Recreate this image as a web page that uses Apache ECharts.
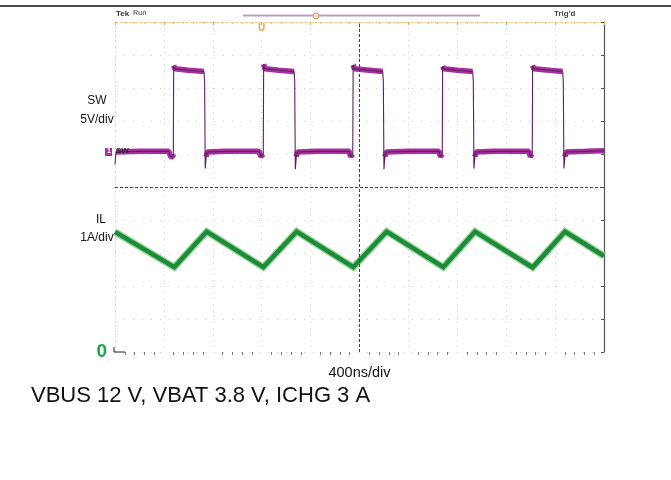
<!DOCTYPE html>
<html><head><meta charset="utf-8">
<script src="https://cdn.jsdelivr.net/npm/echarts@6/dist/echarts.min.js"></script>
<style>html,body{margin:0;padding:0;background:#fff}#c{width:671px;height:480px}</style>
</head><body><div id="c"></div>
<script>
// Time axis (ns), 400 ns/div, 10 divisions
const timeTicksNs = [0, 400, 800, 1200, 1600, 2000, 2400, 2800, 3200, 3600, 4000];
// SW node voltage (V), 5 V/div
const swT = [0, 8, 200, 440, 455, 472, 477, 480, 490, 600, 728, 733, 738, 746, 756,
  900, 1180, 1192, 1208, 1213, 1216, 1226, 1340, 1465, 1470, 1475, 1483, 1492,
  1650, 1915, 1928, 1940, 1945, 1948, 1958, 2080, 2190, 2195, 2200, 2208, 2218,
  2400, 2650, 2662, 2672, 2677, 2680, 2690, 2800, 2926, 2931, 2936, 2944, 2954,
  3100, 3385, 3398, 3408, 3413, 3416, 3426, 3550, 3662, 3667, 3672, 3680, 3690,
  3850, 4000];
const swV = [-1.6, 0.3, 0.4, 0.4, -0.4, -0.4, 0.0, 13.4, 12.9, 12.7, 12.5, 11.0, -2.2, -0.4, 0.3,
  0.4, 0.4, -0.4, -0.4, 0.0, 13.6, 12.9, 12.7, 12.5, 11.0, -2.3, -0.4, 0.3,
  0.4, 0.4, -0.4, -0.4, 0.0, 13.5, 12.9, 12.7, 12.5, 11.0, -2.3, -0.4, 0.3,
  0.4, 0.4, -0.4, -0.4, 0.0, 13.3, 12.9, 12.7, 12.5, 11.0, -2.2, -0.4, 0.3,
  0.4, 0.4, -0.4, -0.4, 0.0, 13.4, 12.9, 12.7, 12.5, 11.0, -2.2, -0.4, 0.3,
  0.4, 0.5];
// Inductor current (A), 1 A/div
const ilT = [0, 485, 750, 1213, 1486, 1949, 2222, 2685, 2945, 3416, 3681, 4000];
const ilA = [3.64, 2.57, 3.65, 2.57, 3.65, 2.57, 3.65, 2.57, 3.65, 2.56, 3.65, 2.91];
// Labels
const swLabel = ['SW', '5V/div'];
const ilLabel = ['IL', '1A/div'];
const xLabel = '400ns/div';
const caption = 'VBUS 12 V, VBAT 3.8 V, ICHG 3 A';

const swData = swT.map((t, i) => [t, swV[i]]);
const swPlateauData = [];
for (let i = 0; i < swT.length - 1; i++) {
  if (Math.abs(swV[i + 1] - swV[i]) < 0.9) { swPlateauData.push([swT[i], swV[i]], [swT[i + 1], swV[i + 1]]); }
  else swPlateauData.push([null, null]);
}
const ilData = ilT.map((t, i) => [t, ilA[i]]);

const chart = echarts.init(document.getElementById('c'), null, {renderer: 'canvas'});
const F = 'Liberation Sans, Arial, sans-serif';
chart.setOption({
  animation: false,
  backgroundColor: '#fff',
  grid: {left: 115, right: 67, top: 22, bottom: 128, containLabel: false},
  xAxis: [{
    type: 'value', min: timeTicksNs[0], max: timeTicksNs[timeTicksNs.length - 1], interval: 400,
    position: 'bottom',
    name: xLabel, nameLocation: 'middle', nameGap: 13,
    nameTextStyle: {fontFamily: F, fontSize: 14.5, color: '#111'},
    axisLine: {show: false, onZero: false},
    axisTick: {show: false},
    minorTick: {show: true, splitNumber: 5, length: 3, lineStyle: {color: '#777', width: 1}},
    axisLabel: {show: false},
    splitLine: {show: true, lineStyle: {color: '#cfcfcf', type: [1, 5], width: 1}}
  }, {
    type: 'value', min: 0, max: 4000, interval: 400, position: 'top',
    axisLine: {show: true, onZero: false, lineStyle: {color: '#f0c890', width: 1, type: [3, 2]}},
    axisTick: {show: true, inside: true, length: 3, lineStyle: {color: '#d8a868'}},
    minorTick: {show: true, splitNumber: 5, length: 2, lineStyle: {color: '#e8c090'}},
    axisLabel: {show: false}, splitLine: {show: false}
  }],
  yAxis: [{
    type: 'value', min: 0, max: 10, interval: 1, position: 'left',
    axisLine: {show: true, onZero: false, lineStyle: {color: '#d8d8d8', type: [1, 4]}},
    axisTick: {show: false},
    axisLabel: {show: true, margin: 8, formatter: v => v === 0 ? '0' : '',
      color: '#1aa84a', fontFamily: F, fontWeight: 'bold', fontSize: 19},
    splitLine: {show: true, lineStyle: {color: '#d0d0d0', type: [1, 8], width: 1}}
  }, {
    type: 'value', min: -30, max: 20, interval: 5, position: 'right',
    axisLine: {show: true, onZero: false, lineStyle: {color: '#555', width: 1.2}},
    axisTick: {show: true, inside: true, length: 3, lineStyle: {color: '#555'}},
    minorTick: {show: false},
    axisLabel: {show: false}, splitLine: {show: false}
  }],
  series: [{
    type: 'line', xAxisIndex: 0, yAxisIndex: 0, data: [], silent: true,
    markLine: {symbol: 'none', silent: true, label: {show: false},
      lineStyle: {color: '#444', width: 1, type: [3, 2]},
      data: [{xAxis: 2000}, {yAxis: 5}]}
  }, {
    name: 'SWband', type: 'line', xAxisIndex: 0, yAxisIndex: 1, data: swPlateauData,
    showSymbol: false, connectNulls: false, silent: true,
    lineStyle: {color: '#a8309c', width: 5.5, cap: 'butt'}
  }, {
    name: 'SW', type: 'line', xAxisIndex: 0, yAxisIndex: 1, data: swData,
    showSymbol: false, silent: true,
    lineStyle: {color: '#5e1f63', width: 1.1}
  }, {
    name: 'ILhalo', type: 'line', xAxisIndex: 0, yAxisIndex: 0, data: ilData,
    showSymbol: false, silent: true,
    lineStyle: {color: '#8fd88a', width: 7, join: 'miter'}
  }, {
    name: 'IL', type: 'line', xAxisIndex: 0, yAxisIndex: 0, data: ilData,
    showSymbol: false, silent: true,
    lineStyle: {color: '#1f8a3e', width: 4.5, join: 'miter'}
  }],
  graphic: [
    {type: 'line', z: 100, shape: {x1: 0, y1: 6, x2: 671, y2: 6}, style: {stroke: '#111', lineWidth: 1.5}},
    {type: 'text', z: 100, left: 116, top: 10, style: {text: 'Tek', font: 'bold 8px ' + F, fill: '#333'}},
    {type: 'text', z: 100, left: 133, top: 10, style: {text: 'Run', font: 'bold 7px ' + F, fill: '#777'}},
    {type: 'text', z: 100, left: 554, top: 10, style: {text: "Trig'd", font: 'bold 8px ' + F, fill: '#444'}},
    {type: 'line', z: 100, shape: {x1: 243, y1: 15.5, x2: 480, y2: 15.5}, style: {stroke: '#b8a0c4', lineWidth: 2}},
    {type: 'circle', z: 100, shape: {cx: 316, cy: 16, r: 3}, style: {fill: '#f8e0c0', stroke: '#d89850', lineWidth: 1}},
    {type: 'text', z: 100, left: 258, top: 23, style: {text: 'U', font: 'bold 10px ' + F, fill: '#f0a030'}},
    {type: 'polyline', z: 100, shape: {points: [[114, 347], [114, 352], [125, 352]]}, style: {stroke: '#222', lineWidth: 1, fill: null}},
    {type: 'rect', z: 100, shape: {x: 105, y: 148, width: 7, height: 8}, style: {fill: '#a8309c'}},
    {type: 'text', z: 100, left: 107, top: 148, style: {text: '1', font: 'bold 7px ' + F, fill: '#fff'}},
    {type: 'text', z: 100, left: 116, top: 147, style: {text: 'SW', font: 'bold 8px ' + F, fill: '#3a1a3a'}},
    {type: 'text', z: 100, x: 97, y: 101, style: {text: swLabel[0], font: '12px ' + F, fill: '#111', align: 'center', verticalAlign: 'middle'}},
    {type: 'text', z: 100, x: 97, y: 120, style: {text: swLabel[1], font: '12px ' + F, fill: '#111', align: 'center', verticalAlign: 'middle'}},
    {type: 'text', z: 100, x: 101, y: 220, style: {text: ilLabel[0], font: '12px ' + F, fill: '#111', align: 'center', verticalAlign: 'middle'}},
    {type: 'text', z: 100, x: 97, y: 238, style: {text: ilLabel[1], font: '12px ' + F, fill: '#111', align: 'center', verticalAlign: 'middle'}},
    {type: 'text', z: 100, x: 31, y: 396, style: {text: caption, font: '22px ' + F, fill: '#111', align: 'left', verticalAlign: 'middle'}}
  ]
});
</script></body></html>
